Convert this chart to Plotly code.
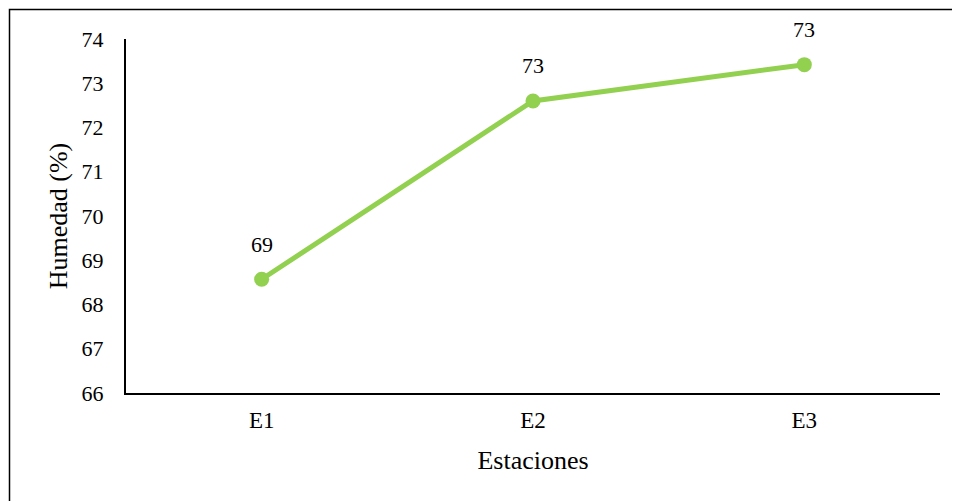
import plotly.graph_objects as go

categories = ["E1", "E2", "E3"]
humedad = [68.57, 72.60, 73.42]
labels = [f"{round(v):d}" for v in humedad]
y_ticks = [66, 67, 68, 69, 70, 71, 72, 73, 74]

FONT = "Liberation Serif, Times New Roman, serif"
GREEN = "#92D050"

fig = go.Figure()
fig.add_trace(go.Scatter(
    x=categories, y=humedad, mode="lines+markers",
    line=dict(color=GREEN, width=5),
    marker=dict(color=GREEN, size=15),
    hoverinfo="skip", showlegend=False,
))
for c, v, t in zip(categories, humedad, labels):
    fig.add_annotation(x=c, y=v, text=t, showarrow=False, yshift=35,
                       font=dict(family=FONT, size=22, color="black"))

# page has an 8px body margin; size the figure to fit the remaining window
W, H = 952, 493
l, r, t, b = 118, 20, 31, 108
pw = W - l - r
ph = H - t - b
fig.add_shape(type="rect", xref="paper", yref="paper",
              x0=(1.5 - l) / pw, x1=(W + 40 - l) / pw,
              y0=(H - b - (H + 40)) / ph, y1=(H - b - 1.5) / ph,
              line=dict(color="black", width=1.5), fillcolor="rgba(0,0,0,0)", layer="below")

fig.update_layout(
    width=W, height=H,
    margin=dict(l=l, r=r, t=t, b=b),
    paper_bgcolor="white", plot_bgcolor="white",
    font=dict(family=FONT, size=22, color="black"),
    xaxis=dict(
        type="category", range=[-0.5, 2.5],
        showline=True, linecolor="black", linewidth=2,
        showgrid=False, zeroline=False, ticks="", ticklabelstandoff=5,
        tickfont=dict(family=FONT, size=23),
        title=dict(text="Estaciones", font=dict(family=FONT, size=26), standoff=19),
    ),
    yaxis=dict(
        range=[66, 74], tickvals=y_ticks,
        showline=True, linecolor="black", linewidth=2,
        showgrid=False, zeroline=False, ticks="", ticklabelstandoff=16,
        tickfont=dict(family=FONT, size=22),
        title=dict(text="Humedad (%)", font=dict(family=FONT, size=26), standoff=6),
    ),
)

fig.write_html("out.html")
